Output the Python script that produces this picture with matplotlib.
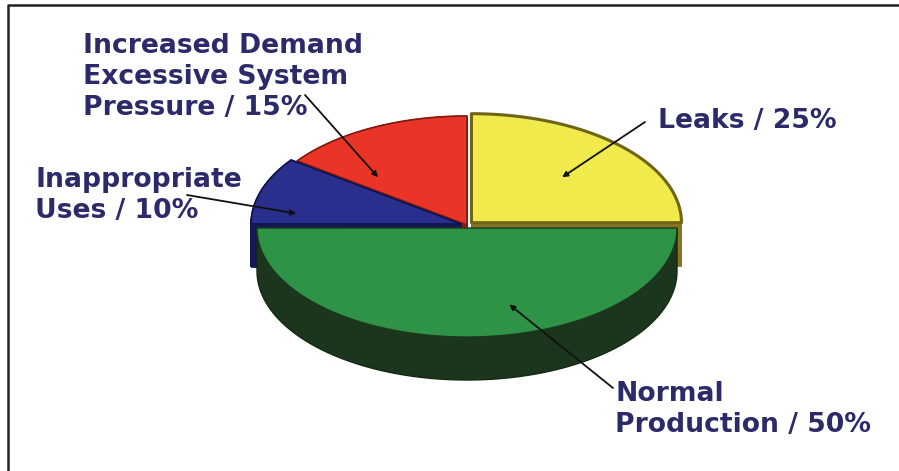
import numpy as np
import matplotlib.pyplot as plt
from matplotlib.patches import Polygon

# ---- data ----
labels = ['Leaks / 25%',
          'Increased Demand\nExcessive System\nPressure / 15%',
          'Inappropriate\nUses / 10%',
          'Normal\nProduction / 50%']
values = [25, 15, 10, 50]

# ---- styles ----
top_colors = ['#f1ea4c', '#ea3428', '#2a2e8c', '#2e9347']
side_colors = ['#857420', '#8a1c16', '#15195a', '#1c361d']
edge_colors = ['#6f6418', '#7a1a12', '#10134a', '#1b3a1d']
explode = [0.03, 0.0, 0.03, 0.0]
text_color = '#2d2a6a'

fig = plt.figure(figsize=(8.99, 4.71), dpi=100)
ax = fig.add_axes([0, 0, 1, 1])
ax.set_xlim(0, 899)
ax.set_ylim(471, 0)
ax.axis('off')

# frame (left and top edges only)
ax.plot([8, 8, 899], [471, 5, 5], color='#222222', lw=1.8)

cx, cy, rx, ry, depth, lift = 467, 228, 210, 109, 43, 3


def pt(t, c):
    return (c[0] + rx * np.cos(t), c[1] - ry * np.sin(t))


fracs = np.array(values, dtype=float) / sum(values)
starts = np.concatenate([[0], np.cumsum(fracs)[:-1]]) * 2 * np.pi
ends = np.cumsum(fracs) * 2 * np.pi

geoms = []
for i in range(len(values)):
    t0, t1 = starts[i], ends[i]
    m = 0.5 * (t0 + t1)
    back = t1 <= np.pi + 1e-9
    c = (cx + explode[i] * rx * np.cos(m),
         cy - explode[i] * ry * np.sin(m) - (lift if back else 0))
    ts = np.linspace(t0, t1, 120)
    arc = np.array([pt(t, c) for t in ts])
    top = np.vstack([[c], arc])
    geoms.append((c, ts, arc, top, back))

# back slices: sides then tops
for i, (c, ts, arc, top, back) in enumerate(geoms):
    if not back:
        continue
    n = len(top)
    for k in range(n):
        p, q = top[k], top[(k + 1) % n]
        quad = [p, q, (q[0], q[1] + depth), (p[0], p[1] + depth)]
        ax.add_patch(Polygon(quad, closed=True, fc=side_colors[i],
                             ec=side_colors[i], lw=0.6, zorder=1))
for i, (c, ts, arc, top, back) in enumerate(geoms):
    if not back:
        continue
    ax.add_patch(Polygon(top, closed=True, fc=top_colors[i],
                         ec=edge_colors[i], lw=2.2 if i == 0 else 1.2,
                         joinstyle='round', zorder=2))

# front slice
for i, (c, ts, arc, top, back) in enumerate(geoms):
    if back:
        continue
    wall = np.vstack([arc, arc[::-1] + [0, depth]])
    ax.add_patch(Polygon(wall, closed=True, fc=side_colors[i],
                         ec='#142814', lw=1.0, zorder=3))
    ax.add_patch(Polygon(top, closed=True, fc=top_colors[i],
                         ec=edge_colors[i], lw=1.0, zorder=4))

# labels and leader lines
text_pos = [(658, 128), (83, 115), (35, 218), (615, 432)]
line_start = [(645, 122), (305, 95), (187, 195), (613, 388)]
pointer = [(44, 0.60), (134, 0.61), (173, 0.79), (286, 0.73)]

for i, lab in enumerate(labels):
    ax.text(text_pos[i][0], text_pos[i][1], lab, ha='left', va='baseline',
            fontsize=19.2, fontweight='bold', color=text_color,
            family='DejaVu Sans', linespacing=1.25, zorder=6)
    c = geoms[i][0]
    a = np.deg2rad(pointer[i][0])
    tgt = (c[0] + pointer[i][1] * rx * np.cos(a),
           c[1] - pointer[i][1] * ry * np.sin(a))
    ax.annotate('', xy=tgt, xytext=line_start[i],
                arrowprops=dict(arrowstyle='-|>', color='#111111', lw=1.3,
                                mutation_scale=8, shrinkA=0, shrinkB=0),
                zorder=7)

fig.savefig('out.png', dpi=100)
